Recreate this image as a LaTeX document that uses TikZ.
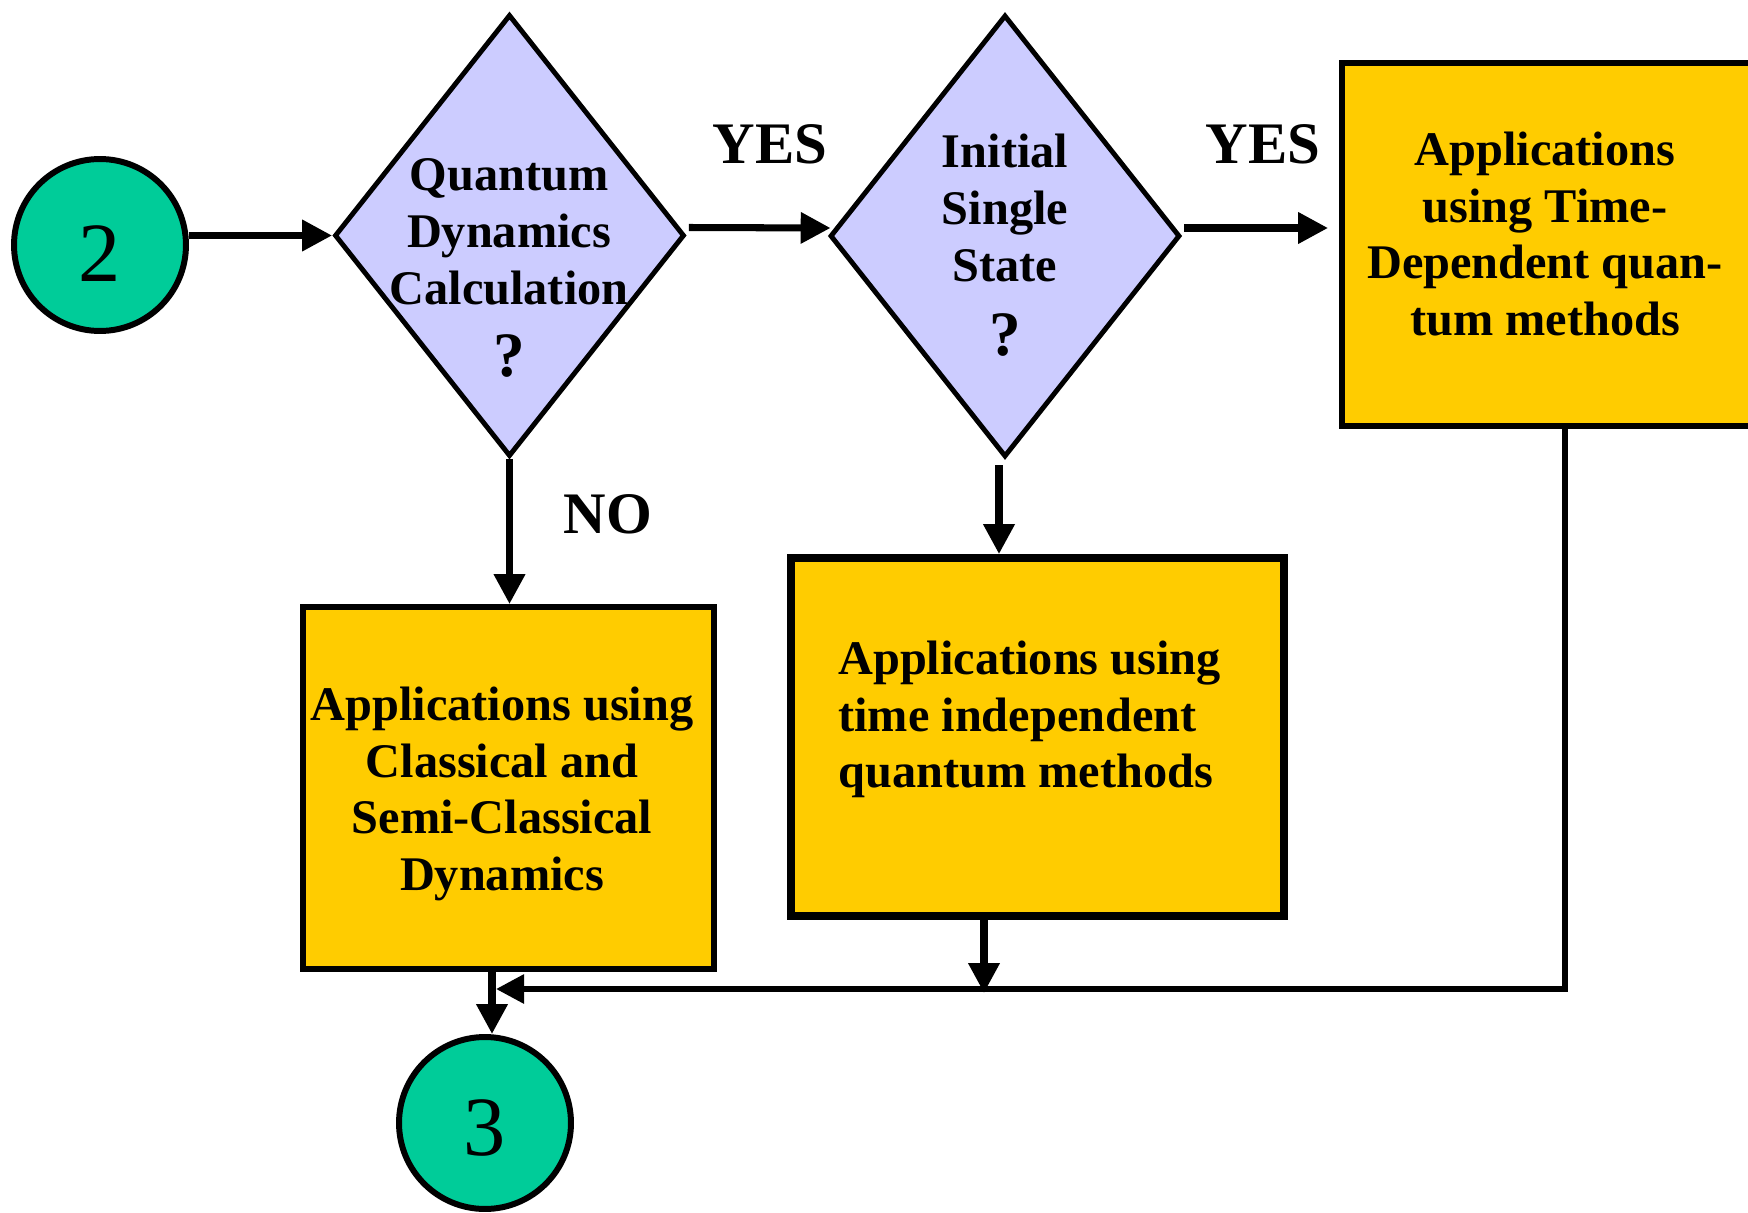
\documentclass[tikz,border=0pt]{standalone}
\usepackage{fontspec}
\setmainfont{Liberation Serif}
\usetikzlibrary{shapes.geometric,arrows.meta}
\definecolor{conngreen}{RGB}{0,204,153}
\definecolor{declav}{RGB}{204,204,255}
\definecolor{appgold}{RGB}{255,204,0}
\newcommand{\bigq}{{\fontsize{36}{36}\selectfont ?}}
\begin{document}
\begin{tikzpicture}[x=0.02cm,y=-0.02cm,
  conn/.style={circle,draw=black,fill=conngreen,line width=3.4pt,minimum size=3.44cm,inner sep=0pt,font=\fontsize{48}{48}\selectfont,text height=1.46cm,text depth=0cm},
  dec/.style={diamond,draw=black,fill=declav,line width=2.8pt,minimum width=7.0cm,minimum height=8.84cm,inner sep=0pt},
  appbox/.style={rectangle,draw=black,fill=appgold,line width=3.4pt,inner sep=0pt},
  txt/.style={inner sep=0pt,align=center,font=\bfseries\fontsize{27.5}{32.3}\selectfont},
  lbl/.style={inner sep=0pt,anchor=base,font=\bfseries\fontsize{33.5}{33.5}\selectfont},
  arr/.style={line width=4pt,-{Triangle[length=17pt,width=17pt]}},
  arrthin/.style={line width=3.4pt,-{Triangle[length=16pt,width=16pt]}},
]
\useasboundingbox (0,0) rectangle (1748,1213);

% nodes
\node[conn] (c2) at (100,245) {2};
\node[conn,text height=1.3cm] (c3) at (485,1123) {3};
\node[dec] (d1) at (509.5,235.5) {};
\node[dec] (d2) at (1005,236) {};
\node[appbox,minimum width=8.2cm,minimum height=7.26cm] (td) at (1547,244.5) {};
\node[appbox,minimum width=8.22cm,minimum height=7.24cm] (cl) at (508.5,788) {};
\node[appbox,line width=4.5pt,minimum width=9.86cm,minimum height=7.16cm] (ti) at (1037.5,737) {};

% texts
\node[txt,anchor=north] (t1) at (509,158.5) {Quantum\\Dynamics\\Calculation\\[8.5pt]\bigq};
\node[txt,anchor=north] (t2) at (1005,134) {Initial\\Single\\State\\[10pt]\bigq};
\node[txt,anchor=north] (t3) at (1545,131.5) {Applications\\using Time-\\Dependent quan-\\tum methods};
\node[txt,anchor=north] (t4) at (502,686.5) {Applications using\\Classical and\\Semi-Classical\\Dynamics};
\node[txt,anchor=north west,align=left] (t5) at (838,640.5) {Applications using\\time independent\\quantum methods};

% labels
\node[lbl] (yes1) at (770,164) {YES};
\node[lbl] (yes2) at (1263,164) {YES};
\node[lbl] (no) at (608,533) {NO};

% helper coordinates
\coordinate (tdc) at (1565,989);
\coordinate (mrg) at (492,989);
\coordinate (tiend) at (984,993);

% connectors
\draw[arr] (d1.west -| c2.east) -- (d1.west);
\draw[arr] ([shift={(2,-8)}]d1.east) -- ([shift={(3,-8)}]d2.west);
\draw[arr] ([shift={(2,-8)}]d2.east) -- ([shift={(-11,-16.5)}]td.west);
\draw[arr] (d1.south) -- (d1.south |- cl.north);
\draw[arr] ([shift={(-6,6)}]d2.south) -- ([shift={(-6,0)}]d2.south |- ti.north);
\draw[arrthin] (td.south -| tdc) -- (tdc) -- ([shift={(4,0)}]mrg);
\draw[arr] (ti.south -| tiend) -- (tiend);
\draw[arr] (cl.south -| mrg) -- (c3.north -| mrg);
\end{tikzpicture}
\end{document}
